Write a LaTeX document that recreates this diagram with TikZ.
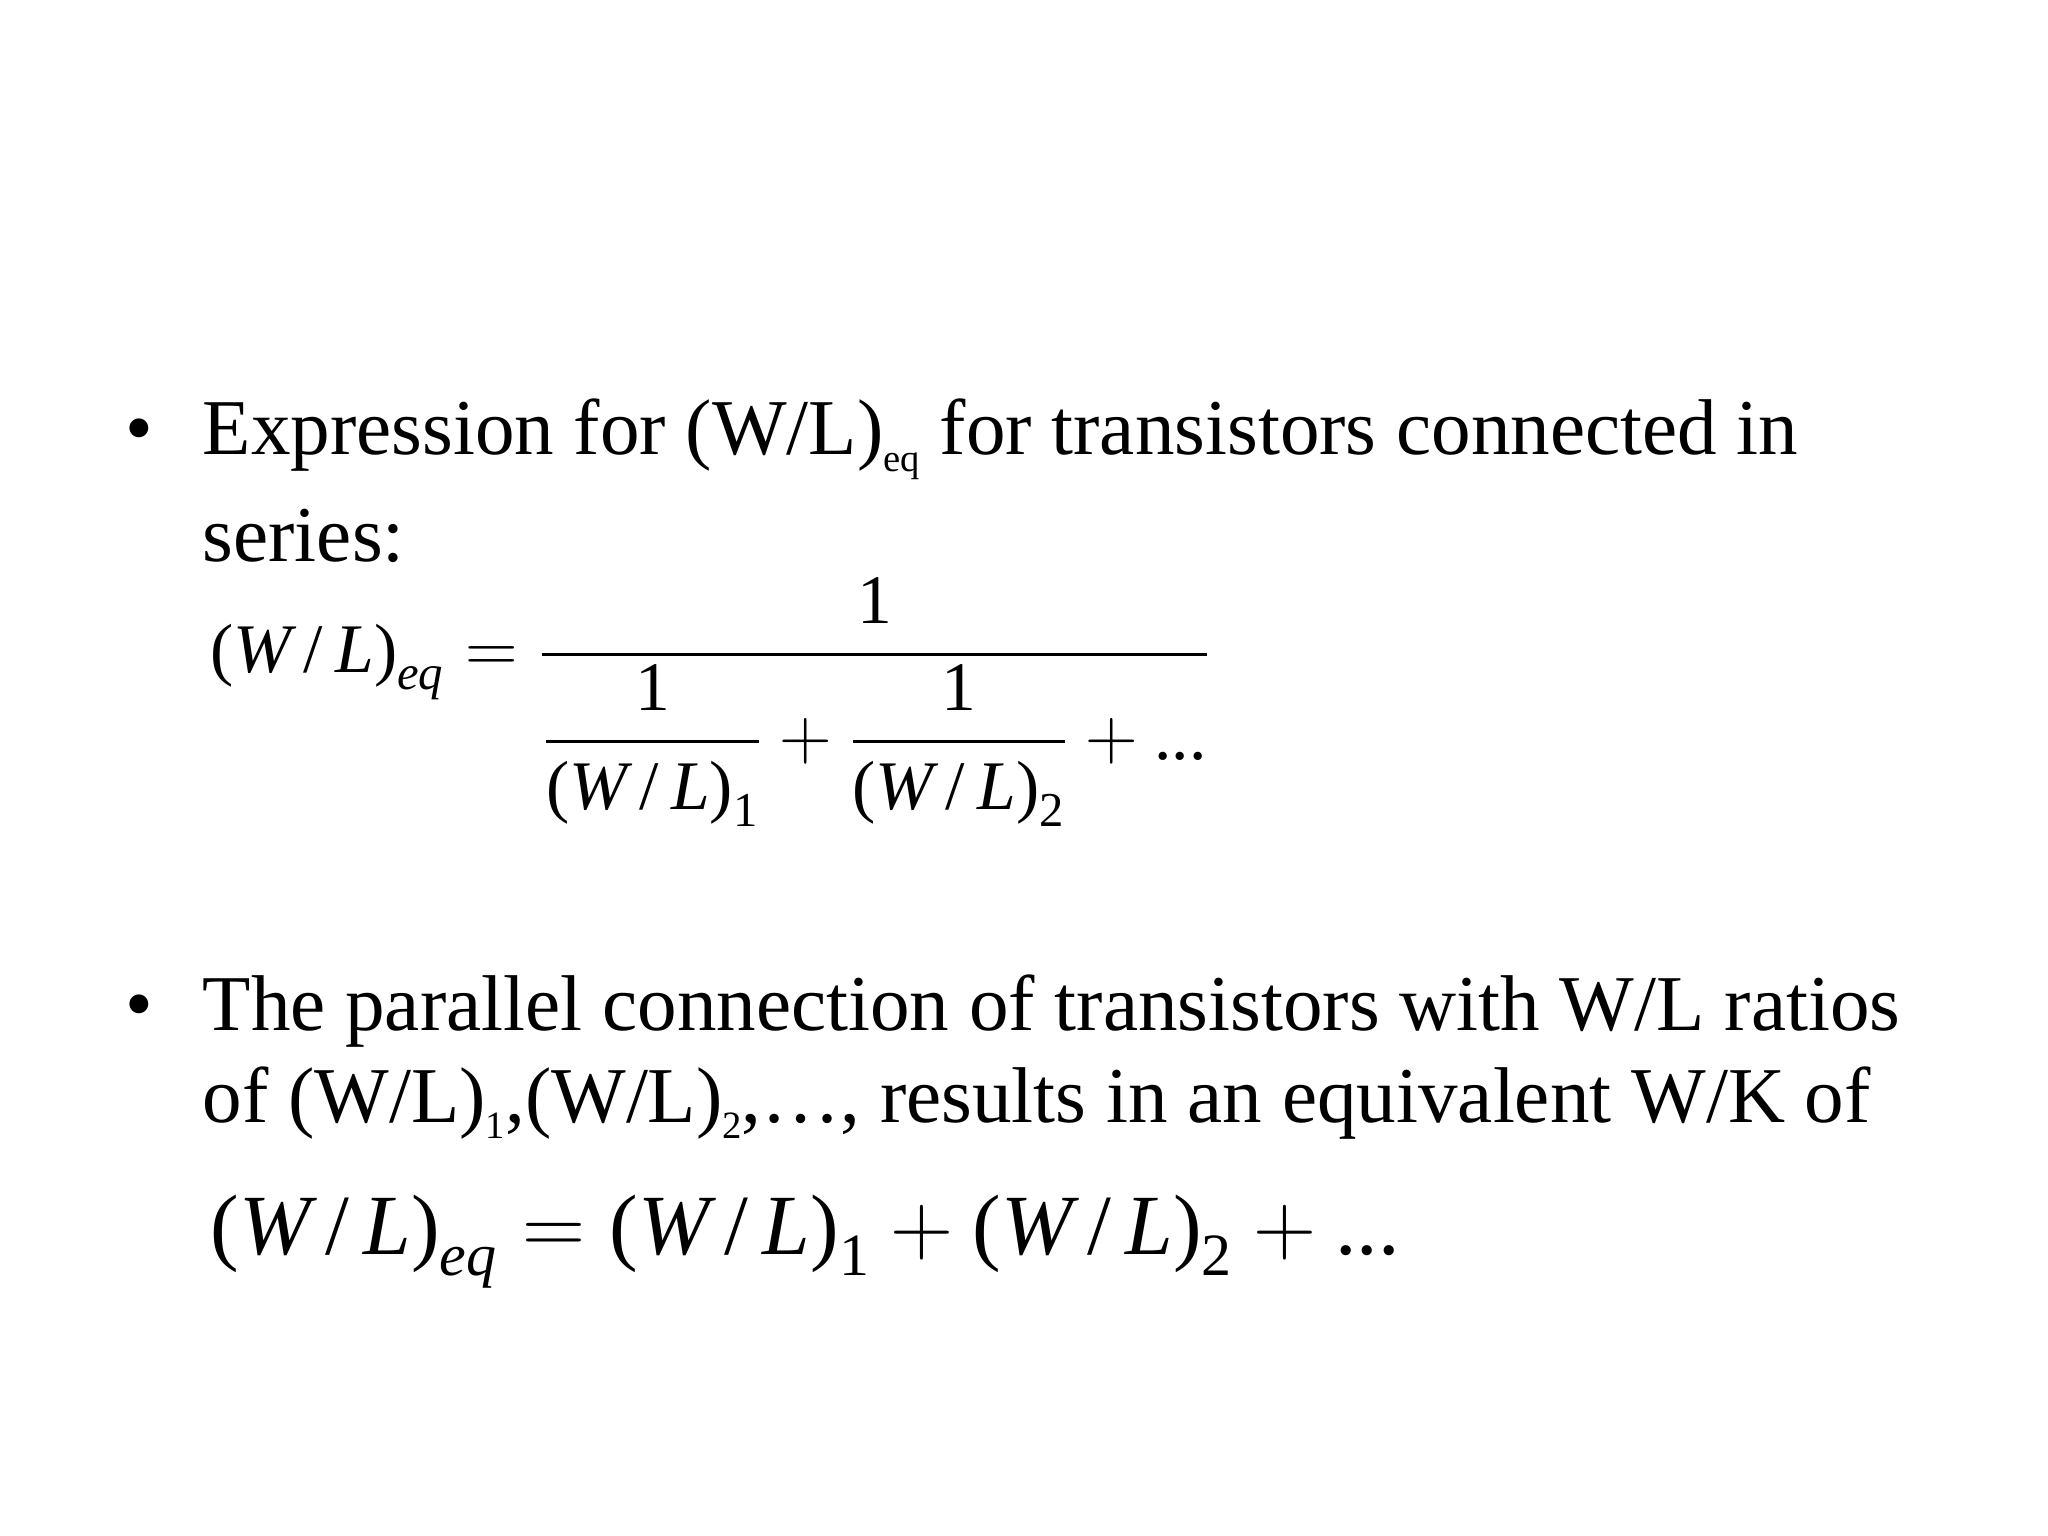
\documentclass[tikz,border=0pt]{standalone}
\usepackage{amsmath}
\usepackage{fontspec}
\setmainfont{Liberation Serif}
\newcommand{\iW}{\textit{W}}
\newcommand{\iL}{\textit{L}}
\newcommand{\wl}{\textup{(}\iW\,\textup{/}\,\iL\textup{)}}
\newcommand{\tn}[1]{\textup{#1}}
\begin{document}
\begin{tikzpicture}[x=1cm,y=1cm,
  txt/.style={anchor=base west,inner sep=0pt,font=\fontsize{22.5}{26}\selectfont},
  bul/.style={anchor=base west,inner sep=0pt,font=\fontsize{22.5}{26}\selectfont}]
\useasboundingbox (0,0) rectangle (20.48,-15.36);
\node[bul] (b1) at (1.25,-4.55) {•};
\node[txt] (l1) at (2.02,-4.55) {Expression for (W/L)\raisebox{-0.45ex}{\fontsize{11}{11}\selectfont eq} for transistors connected in};
\node[txt] (l2) at (2.02,-5.61) {series:};
\node[anchor=west,inner sep=0pt,font=\fontsize{19.8}{22}\selectfont] (e1) at (2.1,-7.02)
 {$\wl_{\textit{eq}} = \dfrac{\tn{1}}{\dfrac{\tn{1}}{\wl_{\tn{1}}}+\dfrac{\tn{1}}{\wl_{\tn{2}}}+\tn{...}}$};
\node[bul] (b2) at (1.25,-10.3) {•};
\node[txt] (l3) at (2.02,-10.3) {The parallel connection of transistors with W/L ratios};
\node[txt] (l4) at (2.02,-11.22) {of (W/L)\raisebox{-0.45ex}{\fontsize{11}{11}\selectfont 1},(W/L)\raisebox{-0.45ex}{\fontsize{11}{11}\selectfont 2},…, results in an equivalent W/K of};
\node[anchor=base west,inner sep=0pt,font=\fontsize{24.4}{28}\selectfont] (e2) at (2.1,-12.54)
 {$\wl_{\textit{eq}} = \wl_{\tn{1}} + \wl_{\tn{2}} + \tn{...}$};
\end{tikzpicture}
\end{document}
